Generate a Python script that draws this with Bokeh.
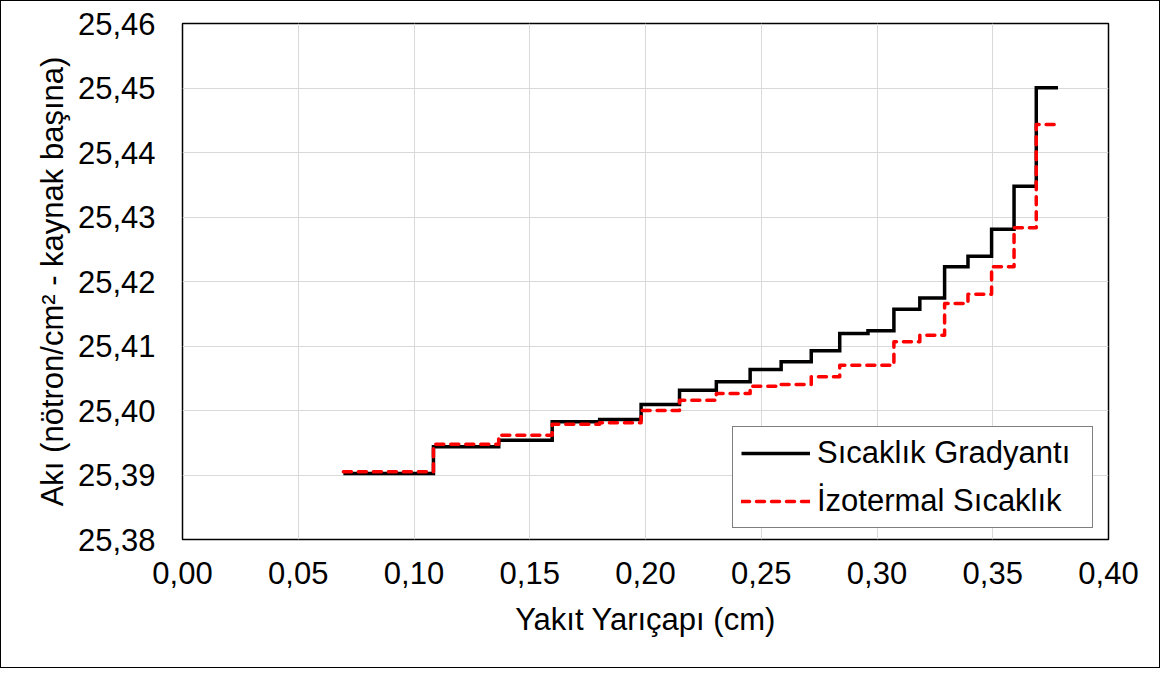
from bokeh.plotting import figure
from bokeh.models import FixedTicker, CustomJSTickFormatter, Legend, LegendItem
from bokeh.embed import file_html
from bokeh.resources import INLINE

# ---- data ----
yaricap = [0.0695, 0.1084, 0.1366, 0.1597, 0.1802, 0.1981, 0.2147, 0.2306, 0.2452,
           0.2586, 0.2716, 0.2839, 0.2961, 0.3073, 0.3185, 0.3292, 0.3393, 0.3495,
           0.3592, 0.3688, 0.3782]
aki_gradyant = [25.39023, 25.39437, 25.39540, 25.39825, 25.39860, 25.40093, 25.40315,
                25.40445, 25.40636, 25.40755, 25.40926, 25.41194, 25.41236, 25.41569,
                25.41744, 25.42228, 25.42392, 25.42811, 25.43478, 25.45003]
aki_izotermal = [25.39050, 25.39478, 25.39617, 25.39788, 25.39809, 25.40000, 25.40160,
                 25.40264, 25.40377, 25.40403, 25.40522, 25.40702, 25.40702, 25.41065,
                 25.41167, 25.41659, 25.41803, 25.42228, 25.42833, 25.44434]
x_ticks = [0.00, 0.05, 0.10, 0.15, 0.20, 0.25, 0.30, 0.35, 0.40]
y_ticks = [25.38, 25.39, 25.40, 25.41, 25.42, 25.43, 25.44, 25.45, 25.46]
seri_adlari = ["Sıcaklık Gradyantı", "İzotermal Sıcaklık"]
x_baslik = "Yakıt Yarıçapı (cm)"
y_baslik = "Akı (nötron/cm² - kaynak başına)"

FONT = "Liberation Sans"
FS = "31px"

p = figure(width=1160, height=668, output_backend="svg", toolbar_location=None,
           x_range=(x_ticks[0], x_ticks[-1]), y_range=(y_ticks[0], y_ticks[-1]),
           min_border_left=181, min_border_right=53, min_border_top=22, min_border_bottom=130)
p.styles = {"border": "1.5px solid black", "box-sizing": "border-box"}

p.outline_line_color = "black"
p.outline_line_width = 1.5
p.background_fill_color = "white"
p.border_fill_color = "white"

for ax in (p.xaxis[0], p.yaxis[0]):
    ax.axis_line_color = None
    ax.major_tick_line_color = None
    ax.minor_tick_line_color = None
    ax.major_tick_out = 0
    ax.major_tick_in = 0
    ax.major_label_text_font = FONT
    ax.major_label_text_font_size = FS
    ax.major_label_text_color = "black"
    ax.axis_label_text_font = FONT
    ax.axis_label_text_font_size = FS
    ax.axis_label_text_font_style = "normal"
    ax.axis_label_text_color = "black"

p.xaxis.ticker = FixedTicker(ticks=x_ticks)
p.yaxis.ticker = FixedTicker(ticks=y_ticks)
p.xaxis.formatter = CustomJSTickFormatter(code="return tick.toFixed(2).replace('.', ',');")
p.yaxis.formatter = CustomJSTickFormatter(code="return tick.toFixed(2).replace('.', ',');")
p.xaxis.axis_label = x_baslik
p.yaxis.axis_label = y_baslik
p.xaxis.major_label_standoff = 22
p.yaxis.major_label_standoff = 27
p.xaxis.axis_label_standoff = 15
p.yaxis.axis_label_standoff = 5

p.xgrid.grid_line_color = "#d9d9d9"
p.ygrid.grid_line_color = "#d9d9d9"
p.xgrid.grid_line_width = 1
p.ygrid.grid_line_width = 1

r1 = p.step(x=yaricap, y=aki_gradyant + [aki_gradyant[-1]], mode="after",
            line_color="black", line_width=3.5, line_join="miter")
r2 = p.step(x=yaricap, y=aki_izotermal + [aki_izotermal[-1]], mode="after",
            line_color="#ff0000", line_width=3.5, line_dash="8 7", line_cap="round",
            line_join="round")

legend = Legend(items=[LegendItem(label=seri_adlari[0], renderers=[r1]),
                       LegendItem(label=seri_adlari[1], renderers=[r2])],
                location=(550, 11))
legend.label_text_font = FONT
legend.label_text_font_size = FS
legend.label_text_color = "black"
legend.border_line_color = "black"
legend.border_line_width = 1.5
legend.background_fill_color = "white"
legend.background_fill_alpha = 1
legend.glyph_width = 69
legend.glyph_height = 36
legend.label_height = 36
legend.label_width = 267
legend.label_standoff = 7
legend.padding = 8
legend.spacing = 12
legend.margin = 0
p.add_layout(legend, "center")

open("out.html", "w").write(file_html(p, INLINE))
